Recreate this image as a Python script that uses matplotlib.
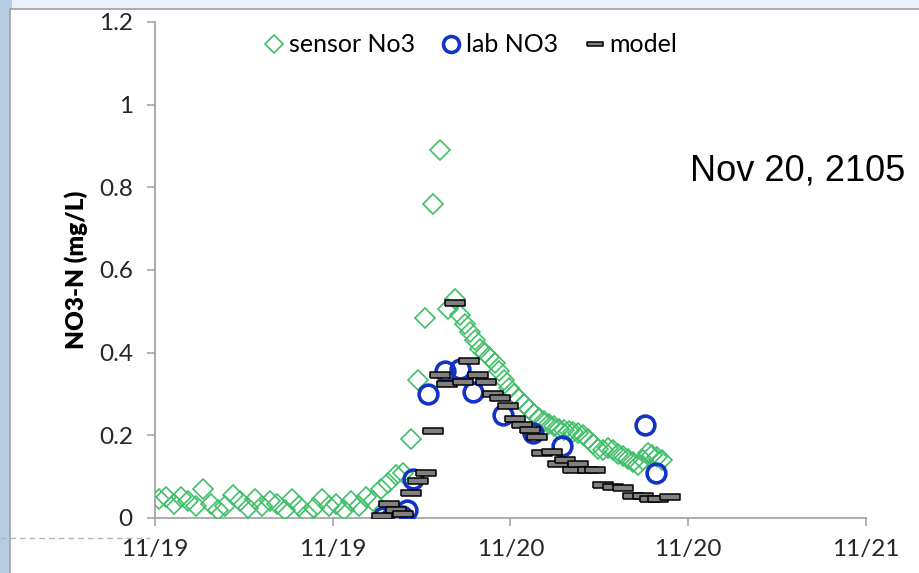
import matplotlib
matplotlib.use("Agg")
import matplotlib.pyplot as plt
from matplotlib.patches import Rectangle

# ---- data (hours since 11/19 00:00) ----
sensor_hours = [0.25, 0.75, 1.25, 1.75, 2.25, 2.75, 3.25, 3.75, 4.25, 4.75,
                5.25, 5.75, 6.25, 6.75, 7.25, 7.75, 8.25, 8.75, 9.25, 9.75,
                10.25, 10.75, 11.25, 11.75, 12.25, 12.75, 13.25, 13.75,
                14.25, 14.75, 15.25, 15.75, 16.25, 16.75, 17.25, 17.75, 18.25,
                18.75, 19.25, 19.75, 20.25,
                20.58, 20.92, 21.25, 21.58, 21.92, 22.25, 22.58, 22.92, 23.25, 23.58,
                23.92, 24.25, 24.58, 24.92, 25.25, 25.58, 25.92, 26.25, 26.58, 26.92,
                27.25, 27.58, 27.92, 28.25, 28.58, 28.92, 29.25, 29.58, 29.92, 30.25,
                30.58, 30.92, 31.25, 31.58, 31.92, 32.25, 32.58, 32.92, 33.25, 33.58,
                33.92, 34.25]
sensor_no3 = [0.045, 0.05, 0.035, 0.05, 0.04, 0.03, 0.07, 0.035, 0.02, 0.03,
              0.055, 0.04, 0.025, 0.045, 0.03, 0.04, 0.035, 0.02, 0.045, 0.03,
              0.01, 0.025, 0.045, 0.03, 0.035, 0.02, 0.04, 0.03,
              0.05, 0.04, 0.07, 0.085, 0.105, 0.11, 0.19, 0.335, 0.485,
              0.76, 0.89, 0.505, 0.53,
              0.49, 0.47, 0.45, 0.43, 0.41, 0.40, 0.39, 0.375, 0.355, 0.335,
              0.315, 0.30, 0.287, 0.275, 0.263, 0.252, 0.242, 0.235, 0.228, 0.222,
              0.216, 0.212, 0.21, 0.207, 0.205, 0.20, 0.19, 0.18, 0.168, 0.165,
              0.17, 0.165, 0.155, 0.15, 0.142, 0.135, 0.128, 0.14, 0.157, 0.152,
              0.148, 0.14]

lab_hours = [15.4, 15.9, 16.3, 16.7, 17.0, 17.4, 18.4, 19.6, 20.6, 21.5,
             23.5, 25.5, 27.5, 33.1, 33.8]
lab_no3 = [0.003, 0.0, 0.002, 0.005, 0.02, 0.095, 0.30, 0.355, 0.36, 0.305,
           0.25, 0.205, 0.175, 0.225, 0.11]

model_hours = [15.3, 15.8, 16.3, 16.75, 17.3, 17.75, 18.3, 18.8, 19.25, 19.7,
               20.25, 20.8, 21.2, 21.8, 22.35, 22.8, 23.3, 23.8, 24.3, 24.8,
               25.3, 25.8, 26.1, 26.8, 27.2, 27.7, 28.2, 28.55, 29.2, 29.7,
               30.25, 30.9, 31.6, 32.3, 32.95, 33.4, 33.95, 34.77]
model_no3 = [0.005, 0.035, 0.02, 0.01, 0.06, 0.09, 0.11, 0.21, 0.345, 0.325,
             0.52, 0.33, 0.38, 0.345, 0.33, 0.30, 0.29, 0.27, 0.24, 0.225,
             0.213, 0.195, 0.157, 0.16, 0.13, 0.14, 0.116, 0.13, 0.116, 0.116,
             0.08, 0.075, 0.073, 0.053, 0.053, 0.046, 0.046, 0.05]

x_ticks = [0, 12, 24, 36, 48]
x_tick_labels = ['11/19', '11/19', '11/20', '11/20', '11/21']
y_ticks = [0, 0.2, 0.4, 0.6, 0.8, 1.0, 1.2]
y_tick_labels = ['0', '0.2', '0.4', '0.6', '0.8', '1', '1.2']

# ---- figure ----
W, H = 920, 573
fig = plt.figure(figsize=(9.2, 5.73), dpi=100, facecolor='#eaf0fa')

# slide background / chart frame
bg = fig.add_axes([0, 0, 1, 1], zorder=-10)
bg.set_xlim(0, W); bg.set_ylim(H, 0); bg.axis('off')
bg.add_patch(Rectangle((0, 0), 12, H, color='#b9cce6', lw=0))
bg.add_patch(Rectangle((10, 9), W - 10, H, facecolor='white', edgecolor='#a0a0a0', lw=1.2))
bg.plot([0, 150], [538, 538], ls=(0, (4, 3)), color='#a9b8c9', lw=1)

ax = fig.add_axes([155 / W, (H - 518) / H, (866 - 155) / W, (518 - 22) / H])
ax.set_facecolor('none')

ax.plot(sensor_hours, sensor_no3, ls='none', marker='D', ms=10.5, mfc='none',
        mec='#3fbf68', mew=1.2, label='sensor No3', zorder=3)
ax.plot(lab_hours, lab_no3, ls='none', marker='o', ms=13.5, mfc='none',
        mec='#1232c8', mew=2.6, label='lab NO3', zorder=4)
rect = [(-1, -0.26), (1, -0.26), (1, 0.26), (-1, 0.26), (-1, -0.26)]
ax.plot(model_hours, model_no3, ls='none', marker=rect, ms=14, mfc='#808080',
        mec='black', mew=1.1, label='model', zorder=5)

ax.set_xlim(0, 48)
ax.set_ylim(0, 1.2)
ax.set_xticks(x_ticks)
ax.set_xticklabels(x_tick_labels)
ax.set_yticks(y_ticks)
ax.set_yticklabels(y_tick_labels)
for s in ['top', 'right']:
    ax.spines[s].set_visible(False)
for s in ['left', 'bottom']:
    ax.spines[s].set_color('#a6a6a6')
    ax.spines[s].set_linewidth(1.3)
ax.tick_params(axis='both', direction='out', length=6, width=1.2, color='#a6a6a6',
               labelsize=17.5, labelcolor='#262626')
ax.tick_params(axis='y', pad=10)
ax.tick_params(axis='x', pad=9)
for lab in ax.get_xticklabels() + ax.get_yticklabels():
    lab.set_family('Lato')

ax.set_ylabel('NO3-N (mg/L)', fontsize=17.5, fontweight='heavy', family='Lato',
              labelpad=8)

leg = ax.legend(loc='center', bbox_to_anchor=(0.443, 0.954), ncol=3, frameon=False,
                handletextpad=0.15, columnspacing=1.0, handlelength=0.9,
                prop={'family': 'Lato', 'size': 18}, markerscale=0.85)

ax.text(0.752, 0.70, 'Nov 20, 2105', transform=ax.transAxes, fontsize=26,
        family='Liberation Sans', color='black', ha='left', va='center')

fig.savefig('out.png', dpi=100, facecolor=fig.get_facecolor())
